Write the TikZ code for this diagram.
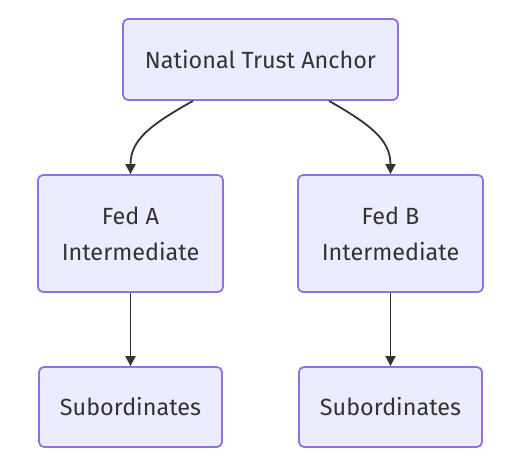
\documentclass[tikz,border=0pt]{standalone}
\usepackage{fontspec}
\setmainfont{Fira Sans}
\usetikzlibrary{arrows.meta}
\definecolor{nodefill}{HTML}{ECECFF}
\definecolor{nodeline}{HTML}{9370DB}
\definecolor{txt}{HTML}{333333}
\tikzset{
  box/.style={draw=nodeline, fill=nodefill, line width=1.8pt, rounded corners=5pt,
    text=txt, font=\fontsize{23.4}{36}\selectfont, align=center, inner sep=0pt},
  edge/.style={draw=txt, line width=1.8pt, -{Triangle[length=10pt,width=10pt]}}
}
\begin{document}
\begin{tikzpicture}[x=1pt,y=-1pt]
\useasboundingbox (0,0) rectangle (528,472);
\node[box, minimum width=275pt, minimum height=81pt] (nta) at (260.5,59.5) {National Trust Anchor};
\node[box, minimum width=185pt, minimum height=117pt] (feda) at (130.5,233.5) {Fed A\\Intermediate};
\node[box, minimum width=185pt, minimum height=117pt] (fedb) at (390.5,233.5) {Fed B\\Intermediate};
\node[box, minimum width=183pt, minimum height=80pt] (suba) at (130.5,407) {Subordinates};
\node[box, minimum width=183pt, minimum height=80pt] (subb) at (390.5,407) {Subordinates};
\draw[edge] ([xshift=-67.5pt]nta.south) .. controls (150,125) and (130.5,140) .. (feda.north);
\draw[edge] ([xshift=68.5pt]nta.south) .. controls (371,125) and (390.5,140) .. (fedb.north);
\draw[edge] (feda.south) -- (suba.north);
\draw[edge] (fedb.south) -- (subb.north);
\end{tikzpicture}
\end{document}
